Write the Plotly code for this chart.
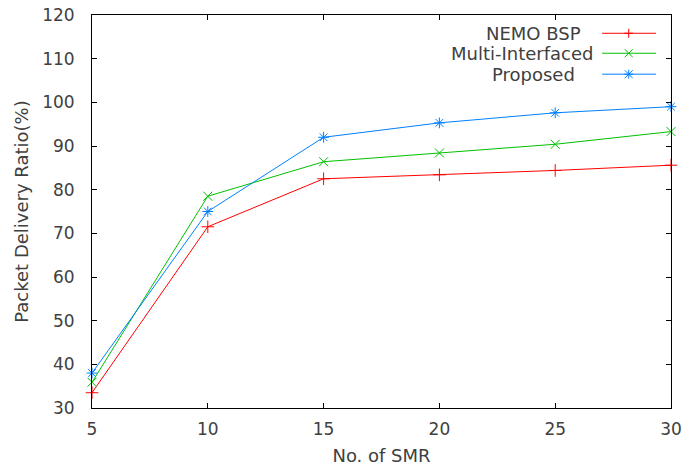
import plotly.graph_objects as go

x_smr = [5, 10, 15, 20, 25, 30]
nemo_bsp = [33.5, 71.5, 82.5, 83.4, 84.4, 85.6]
multi_if = [35.9, 78.5, 86.4, 88.4, 90.4, 93.3]
proposed = [38.0, 75.0, 92.0, 95.3, 97.6, 99.0]

series_names = ["NEMO BSP", "Multi-Interfaced", "Proposed"]
series_colors = ["#ff0000", "#00c000", "#0080ff"]
series_symbols = ["cross-thin-open", "x-thin-open", "asterisk-open"]
x_ticks = [5, 10, 15, 20, 25, 30]
y_ticks = [30, 40, 50, 60, 70, 80, 90, 100, 110, 120]

FONT = "DejaVu Sans"
TXT = "#404040"

fig = go.Figure()
for name, vals, col, sym in zip(series_names, [nemo_bsp, multi_if, proposed], series_colors, series_symbols):
    fig.add_trace(go.Scatter(
        x=x_smr, y=vals, name=name, mode="lines+markers",
        line=dict(color=col, width=1),
        marker=dict(symbol=sym, size=9, color=col, line=dict(color=col, width=1)),
        cliponaxis=False, showlegend=False,
    ))

# manual gnuplot-style legend (text right, sample on the right)
text_x = [0.848, 0.870, 0.838]
row_y = [0.9535, 0.9027, 0.8494]
shapes = []
annotations = []
for name, col, tx, ry, k in zip(series_names, series_colors, text_x, row_y, range(3)):
    annotations.append(dict(x=tx, y=ry, xref="paper", yref="paper", text=name,
                            showarrow=False, xanchor="right", yanchor="middle",
                            font=dict(family=FONT, size=18, color=TXT)))
    shapes.append(dict(type="line", xref="paper", yref="paper", x0=0.881, x1=0.974,
                       y0=ry, y1=ry, line=dict(color=col, width=1)))
    segs = []
    if k in (0, 2):
        segs += [(-4.5, 0, 4.5, 0), (0, -4.5, 0, 4.5)]
    if k in (1, 2):
        segs += [(-4, -4, 4, 4), (-4, 4, 4, -4)]
    for (a, b, c, d) in segs:
        shapes.append(dict(type="line", xref="paper", yref="paper",
                           xsizemode="pixel", ysizemode="pixel",
                           xanchor=0.927, yanchor=ry, x0=a, y0=b, x1=c, y1=d,
                           line=dict(color=col, width=1)))

axis_common = dict(showgrid=False, zeroline=False, showline=True, linecolor="#000000",
                   linewidth=1, mirror="ticks", ticks="inside", ticklen=5, automargin=False,
                   ticklabeloverflow="allow",
                   tickcolor="#000000", tickfont=dict(family=FONT, size=17, color=TXT))

fig.update_layout(
    width=684, height=470,
    margin=dict(l=92, r=13, t=15, b=62, autoexpand=False),
    paper_bgcolor="white", plot_bgcolor="white",
    hovermode=False,
    xaxis=dict(range=[5, 30], tickvals=x_ticks, ticklabelstandoff=6,
               title=dict(text="No. of SMR", font=dict(family=FONT, size=18, color=TXT), standoff=10),
               **axis_common),
    yaxis=dict(range=[30, 120], tickvals=y_ticks, ticklabelstandoff=13,
               title=dict(text="Packet Delivery Ratio(%)", font=dict(family=FONT, size=18, color=TXT), standoff=8),
               **axis_common),
    shapes=shapes, annotations=annotations,
)

fig.write_html("out.html", config={"displayModeBar": False, "staticPlot": True},
               post_script="document.body.style.margin='0';document.body.style.overflow='hidden';")
